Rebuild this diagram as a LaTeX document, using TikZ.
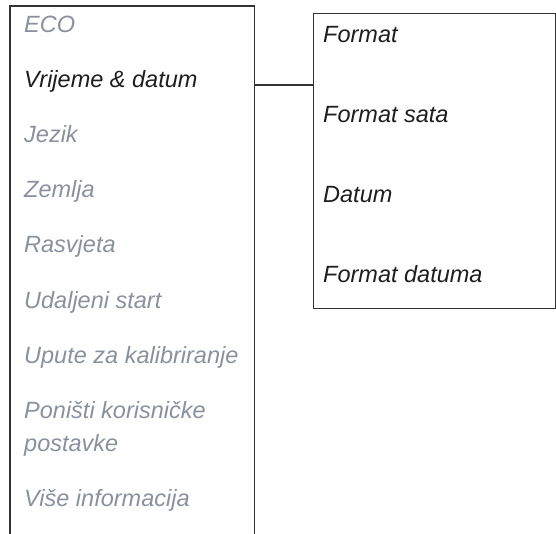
\documentclass[tikz,border=0pt]{standalone}
\usepackage{fontspec}
\setmainfont{Liberation Sans}
\usetikzlibrary{calc}

\definecolor{menugrey}{HTML}{8A909D}
\definecolor{menuline}{HTML}{333333}
\definecolor{menutext}{HTML}{1E1E1E}

\begin{document}
\begin{tikzpicture}[x=1pt,y=-1pt,
	item/.style={anchor=base west, inner sep=0pt, align=left,
		font=\fontsize{23.5}{33}\selectfont\itshape, text=menugrey},
	chosen/.style={item, text=menutext},
	frame/.style={draw=menuline, line width=1.1pt}]
	
	\useasboundingbox (0,0) rectangle (556,534);
	
	%--- Main menu (open at the bottom) ---
	\node[anchor=north west, inner sep=0pt, minimum width=244pt, minimum height=528pt] (menu) at (10,6) {};
	\draw[frame] (menu.south west) -- (menu.north west) -- (menu.north east) -- (menu.south east);
	
	%--- Submenu box ---
	\node[frame, anchor=north west, inner sep=0pt, minimum width=242pt, minimum height=295pt] (sub) at (313,13) {};
	
	% Link between the two
	\coordinate (link) at (0,85);
	\draw[frame] (menu.east |- link) -- (sub.west |- link);
	
	% Menu entries
	\node[item]   (eco)      at (24,33)  {ECO};
	\node[chosen] (vrijeme)  at (24,88)  {Vrijeme \& datum};
	\node[item]   (jezik)    at (24,143) {Jezik};
	\node[item]   (zemlja)   at (24,198) {Zemlja};
	\node[item]   (rasvjeta) at (24,253) {Rasvjeta};
	\node[item]   (udaljeni) at (24,308) {Udaljeni start};
	\node[item]   (upute)    at (24,363) {Upute za kalibriranje};
	\node[item]   (ponisti)  at (24,451) {Poništi korisničke\\postavke}; % base = last line
	\node[item]   (vise)     at (24,506) {Više informacija};
	
	% Submenu entries
	\node[chosen] (format)   at (323,43)  {Format};
	\node[chosen] (sata)     at (323,123) {Format sata};
	\node[chosen] (datum)    at (323,203) {Datum};
	\node[chosen] (datuma)   at (323,283) {Format datuma};
	
\end{tikzpicture}
\end{document}
